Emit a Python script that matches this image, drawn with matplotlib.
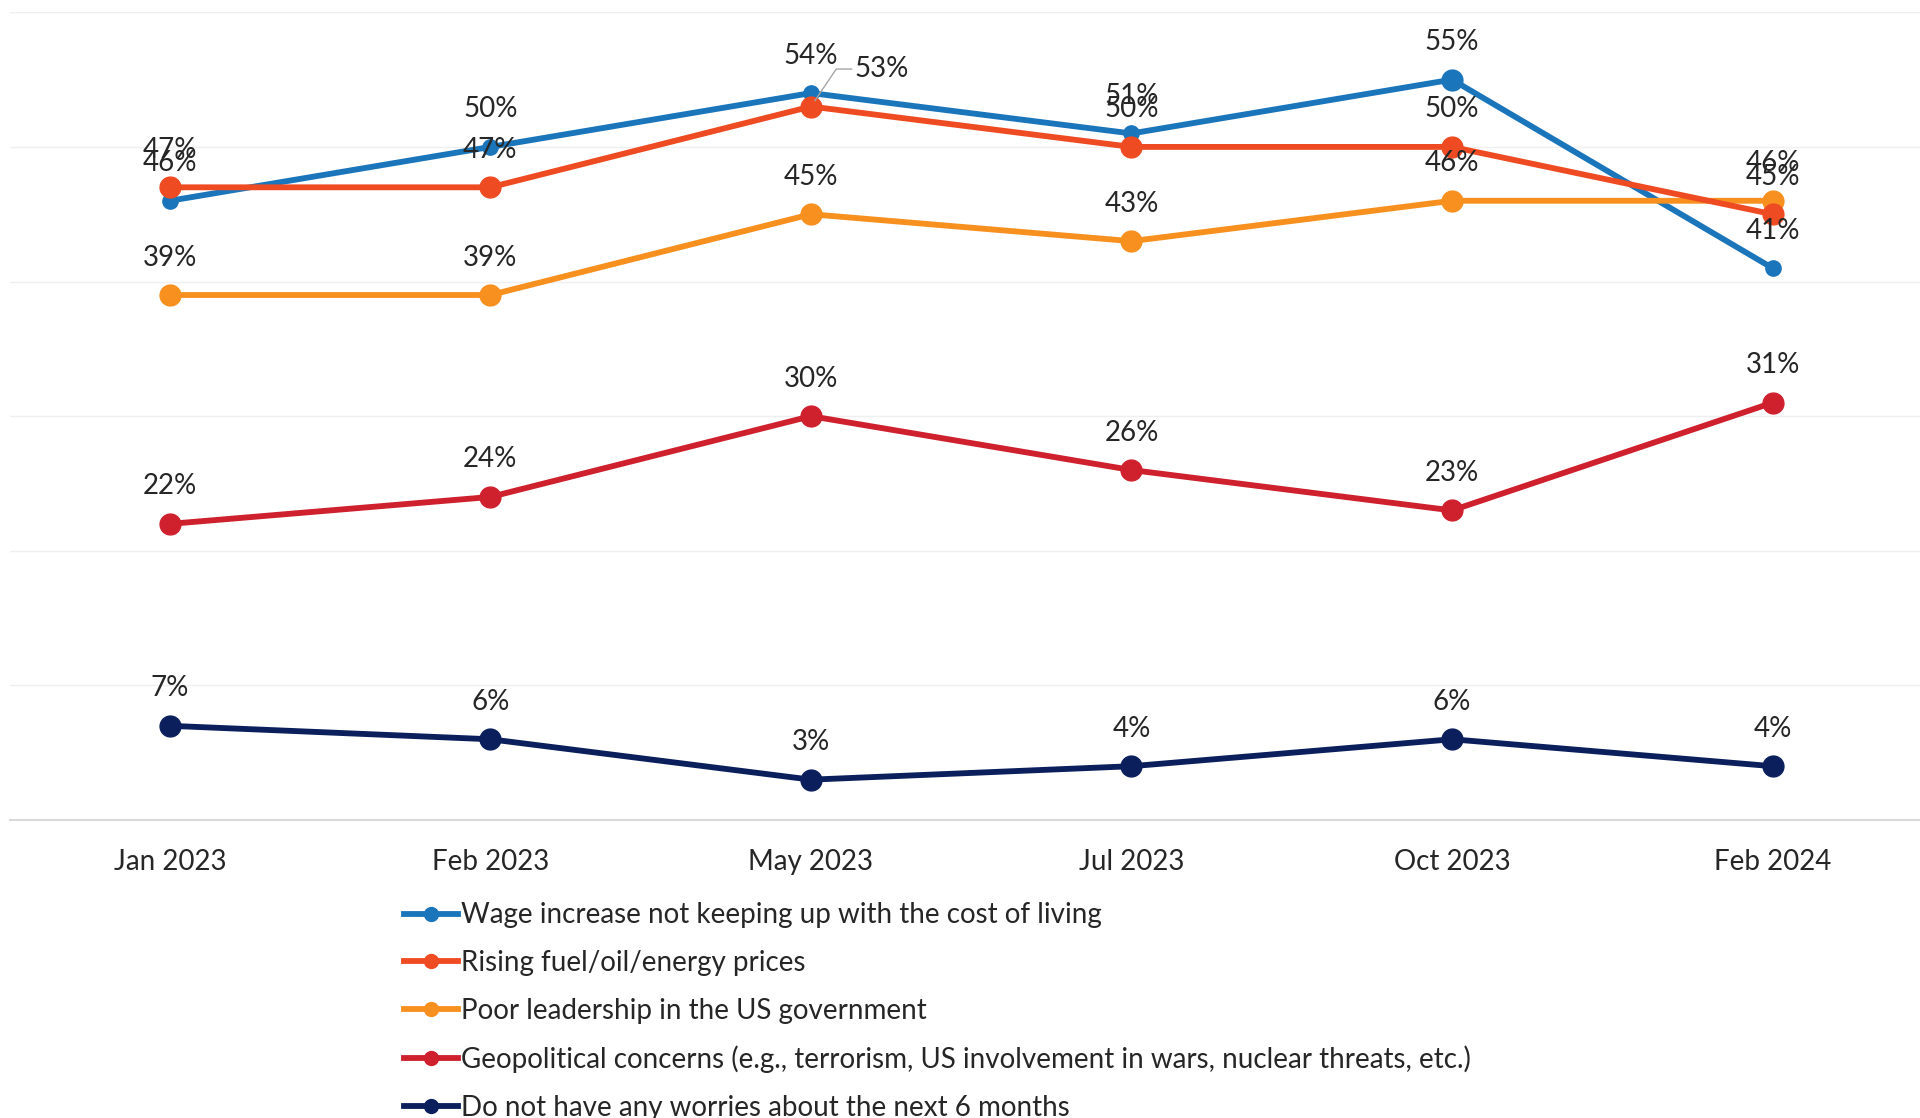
import matplotlib
matplotlib.use("Agg")
import matplotlib.pyplot as plt

# Survey waves and series values (%)
months = ["Jan 2023", "Feb 2023", "May 2023", "Jul 2023", "Oct 2023", "Feb 2024"]
wage = [46, 50, 54, 51, 55, 41]
fuel = [47, 47, 53, 50, 50, 45]
leadership = [39, 39, 45, 43, 46, 46]
geopolitical = [22, 24, 30, 26, 23, 31]
no_worries = [7, 6, 3, 4, 6, 4]

names = ["Wage increase not keeping up with the cost of living",
         "Rising fuel/oil/energy prices",
         "Poor leadership in the US government",
         "Geopolitical concerns (e.g., terrorism, US involvement in wars, nuclear threats, etc.)",
         "Do not have any worries about the next 6 months"]
colors = ["#1B75BB", "#EF4B23", "#F7901E", "#CF202E", "#0A1F5C"]

plt.rcParams['font.family'] = ['Lato', 'DejaVu Sans']
txt = "#262626"

fig = plt.figure(figsize=(19.2, 11.18), dpi=100)
ax = fig.add_axes([0.005, 0.2665, 0.995, 0.7225])

x = list(range(len(months)))
series = [wage, fuel, leadership, geopolitical, no_worries]
for i, (vals, name, c) in enumerate(zip(series, names, colors)):
    ms = 11 if i == 0 else 15
    ax.plot(x, vals, color=c, lw=4.2, marker="o", ms=ms, label=name, zorder=4 if i == 1 else 3)
    if i == 0:
        # Oct 2023 point drawn with the full-size marker
        ax.plot(x, vals, color=c, lw=0, marker="o", ms=15, markevery=[4], zorder=3)
    for j, v in enumerate(vals):
        if i == 1 and j == 2:
            ax.annotate("%d%%" % v, (j, v), xytext=(51, 27), textcoords="offset points",
                        ha="center", va="center", fontsize=20, color=txt, zorder=6,
                        arrowprops=dict(arrowstyle="-", color="#A6A6A6", lw=1,
                                        shrinkA=0, shrinkB=5, relpos=(0, 0.5),
                                        connectionstyle="angle,angleA=0,angleB=56,rad=0"))
        else:
            ax.annotate("%d%%" % v, (j, v), xytext=(0, 27), textcoords="offset points",
                        ha="center", va="center", fontsize=20, color=txt, zorder=6)

ax.set_xlim(-0.5, 5.46)
ax.set_ylim(0, 60)
ax.set_yticks(range(0, 61, 10))
ax.set_yticklabels([])
ax.tick_params(axis="y", length=0)
ax.grid(axis="y", color="#EFEFEF", lw=1)
ax.set_axisbelow(True)
ax.set_xticks(x)
ax.set_xticklabels(months, fontsize=20, color=txt)
ax.tick_params(axis="x", length=0, pad=21)
for s in ["top", "right", "left"]:
    ax.spines[s].set_visible(False)
ax.spines["bottom"].set_color("#D9D9D9")
ax.spines["bottom"].set_linewidth(1.5)

leg = ax.legend(loc="upper left", bbox_to_anchor=(0.2065, -0.102), frameon=False,
                fontsize=20, handlelength=1.95, handletextpad=0.1, labelspacing=0.78,
                borderaxespad=0, borderpad=0)
for t in leg.get_texts():
    t.set_color(txt)
for h in leg.legend_handles:
    h.set_markersize(10)

fig.savefig("out.png", dpi=100)
